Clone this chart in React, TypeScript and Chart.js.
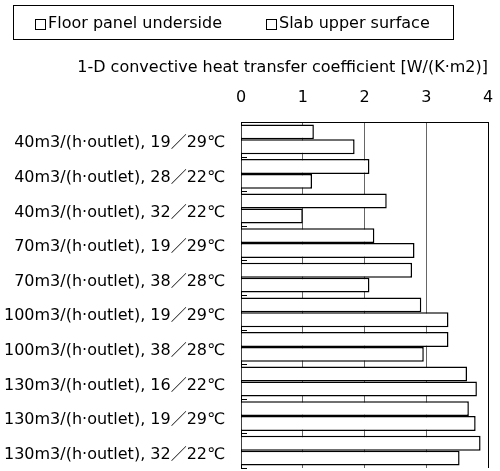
import React, { useEffect, useRef } from "react";
import { Chart, registerables } from "chart.js";

Chart.register(...registerables);

const categories = [
  "40m3/(h·outlet), 19／29℃",
  "40m3/(h·outlet), 28／22℃",
  "40m3/(h·outlet), 32／22℃",
  "70m3/(h·outlet), 19／29℃",
  "70m3/(h·outlet), 38／28℃",
  "100m3/(h·outlet), 19／29℃",
  "100m3/(h·outlet), 38／28℃",
  "130m3/(h·outlet), 16／22℃",
  "130m3/(h·outlet), 19／29℃",
  "130m3/(h·outlet), 32／22℃",
];
const floorPanelUnderside = [1.18, 2.08, 2.36, 2.16, 2.77, 2.92, 3.36, 3.66, 3.69, 3.88];
const slabUpperSurface = [1.84, 1.15, 1.0, 2.81, 2.08, 3.36, 2.96, 3.82, 3.8, 3.54];
const seriesLabels = ["Floor panel underside", "Slab upper surface"];
const axisTitle = "1-D convective heat transfer coefficient [W/(K·m2)]";

const FONT = "'DejaVu Sans', 'Noto Sans CJK JP', sans-serif";

const overlayPlugin = {
  id: "overlay",
  afterDraw(chart: any) {
    const ctx = chart.ctx;
    const area = chart.chartArea;
    ctx.save();
    // legend
    ctx.strokeStyle = "#000";
    ctx.lineWidth = 1;
    ctx.strokeRect(13.5, 5.5, 440, 34);
    ctx.font = `16px ${FONT}`;
    ctx.fillStyle = "#000";
    ctx.textBaseline = "middle";
    ctx.textAlign = "left";
    const starts = [35, 266];
    chart.data.datasets.forEach((ds: any, i: number) => {
      const x = starts[i];
      ctx.strokeRect(x + 0.5, 19.5, 10, 10);
      ctx.fillText(ds.label, x + 13, 24);
    });
    // axis title (right aligned to plot)
    ctx.font = `16px ${FONT}`;
    ctx.textAlign = "right";
    ctx.fillText(axisTitle, area.right, 68);
    // small inside ticks at category boundaries
    const y = chart.scales.y;
    for (let i = 0; i <= categories.length; i++) {
      const py = Math.round(y.getPixelForValue(i - 0.5)) + 0.5;
      ctx.beginPath();
      ctx.moveTo(area.left, py);
      ctx.lineTo(area.left + 6, py);
      ctx.stroke();
    }
    ctx.restore();
  },
};

export default function App() {
  const ref = useRef<HTMLCanvasElement>(null);
  useEffect(() => {
    const chart = new Chart(ref.current as HTMLCanvasElement, {
      type: "bar",
      data: {
        labels: categories,
        datasets: [
          {
            label: seriesLabels[0],
            data: floorPanelUnderside,
            backgroundColor: "#fff",
            borderColor: "#000",
            borderWidth: 1.5,
          },
          {
            label: seriesLabels[1],
            data: slabUpperSurface,
            backgroundColor: "#fff",
            borderColor: "#000",
            borderWidth: 1.5,
          },
        ],
      },
      options: {
        indexAxis: "y",
        animation: false,
        responsive: false,
        maintainAspectRatio: false,
        layout: { padding: { top: 0, right: 12, bottom: 3, left: 0 } },
        datasets: { bar: { categoryPercentage: 0.86, barPercentage: 1 } },
        plugins: {
          legend: { display: false },
          tooltip: { enabled: false },
        },
        scales: {
          x: {
            position: "top",
            min: 0,
            max: 4,
            ticks: {
              stepSize: 1,
              color: "#000",
              padding: 15,
              font: { family: FONT, size: 16 },
            },
            grid: {
              drawTicks: false,
              color: (c: any) => (c.tick && c.tick.value === 4 ? "#000" : "#666"),
              lineWidth: 1,
            },
            border: { color: "#000", width: 1 },
            afterFit: (s: any) => {
              s.height = 122;
              s.paddingLeft = 0;
              s.paddingRight = 0;
            },
          },
          y: {
            ticks: {
              color: "#000",
              padding: 16,
              labelOffset: 4,
              font: { family: FONT, size: 16 },
            },
            grid: { display: false, drawTicks: false },
            border: { color: "#000", width: 1 },
            afterFit: (s: any) => {
              s.width = 241;
              s.paddingTop = 0;
              s.paddingBottom = 0;
            },
          },
        },
      },
      plugins: [overlayPlugin],
    } as any);
    return () => chart.destroy();
  }, []);
  return (
    <div style={{ position: "absolute", left: 0, top: 0, width: 500, height: 471 }}>
      <canvas ref={ref} width={500} height={471} style={{ width: 500, height: 471 }} />
    </div>
  );
}
